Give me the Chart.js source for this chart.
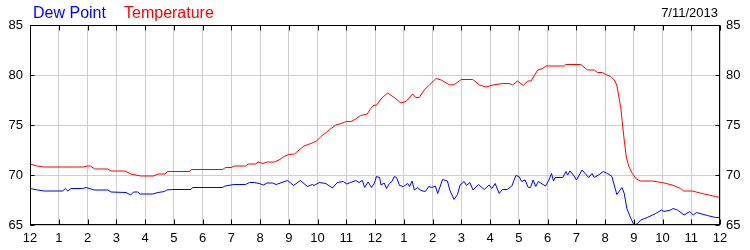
<!DOCTYPE html>
<html>
<head>
<meta charset="utf-8">
<script src="https://cdn.jsdelivr.net/npm/chart.js@4"></script>
<style>
    body { margin: 0; background: #fff; }
    #cadre { position: relative; width: 750px; height: 250px; font-family: "Liberation Sans", Arial, sans-serif; }
    .entete { position: absolute; white-space: nowrap; line-height: 1; }
</style>
</head>
<body>
<div id="cadre">
    <canvas id="graphique-meteo" width="750" height="250"></canvas>
    <div class="entete" style="left:33px; top:5px; font-size:16px; color:#0000ff;">Dew Point</div>
    <div class="entete" style="left:124px; top:5px; font-size:16px; color:#ff0000;">Temperature</div>
    <div class="entete" style="right:32px; top:6px; font-size:13px; color:#000;">7/11/2013</div>
</div>
<script>
// Heures (0 = minuit) et valeurs
const heuresTemperature = [0, 0.25, 0.5, 1.85, 2.0, 2.1, 2.25, 2.7, 2.82, 3.3, 3.5, 3.85, 4.3, 4.45, 4.7, 4.78, 5.55, 5.62, 6.7, 6.8,
    7.0, 7.1, 7.5, 7.58, 7.85, 7.93, 8.1, 8.25, 8.5, 8.66, 8.84, 9.0, 9.2, 9.36, 9.53, 9.77, 9.97, 10.12, 10.3, 10.47,
    10.64, 10.82, 11.0, 11.16, 11.33, 11.5, 11.73, 11.85, 11.97, 12.05, 12.13, 12.24, 12.44, 12.67, 12.9, 13.08, 13.31, 13.42, 13.54, 13.71,
    13.89, 14.12, 14.3, 14.6, 14.76, 15.0, 15.4, 15.63, 15.86, 16.1, 16.44, 16.67, 16.79, 16.96, 17.16, 17.31, 17.43, 17.66, 17.83, 17.95,
    18.58, 18.64, 19.16, 19.39, 19.63, 19.74, 19.91, 20.03, 20.2, 20.32, 20.41, 20.49, 20.55, 20.6, 20.66, 20.74, 20.83, 20.95, 21.09, 21.24,
    21.65, 21.99, 22.34, 22.63, 22.74, 23.03, 23.38, 23.61, 23.84, 24.0];
const valeursTemperature = [71.1, 70.9, 70.8, 70.8, 70.9, 70.9, 70.6, 70.6, 70.4, 70.4, 70.1, 69.9, 69.9, 70.1, 70.1, 70.35, 70.35, 70.55, 70.55, 70.75,
    70.75, 70.9, 70.9, 71.1, 71.1, 71.3, 71.15, 71.3, 71.3, 71.5, 71.85, 72.05, 72.1, 72.5, 72.9, 73.15, 73.4, 73.85, 74.25, 74.65,
    75.0, 75.15, 75.35, 75.35, 75.6, 75.95, 76.1, 76.65, 77.0, 76.95, 77.3, 77.7, 78.2, 77.75, 77.2, 77.35, 78.1, 77.75, 77.75, 78.5,
    79.0, 79.65, 79.5, 79.0, 79.05, 79.55, 79.55, 79.0, 78.8, 79.0, 79.15, 79.15, 79.0, 79.4, 78.95, 79.4, 79.4, 80.5, 80.65, 80.9,
    80.9, 81.05, 81.05, 80.5, 80.5, 80.25, 80.25, 80.05, 79.85, 79.5, 79.0, 77.7, 76.7, 75.3, 73.7, 71.8, 70.85, 70.15, 69.6, 69.4,
    69.4, 69.25, 69.0, 68.65, 68.4, 68.4, 68.15, 68.0, 67.85, 67.75];

const heuresRosee = [0, 0.27, 0.5, 1.14, 1.23, 1.31, 1.43, 1.83, 1.95, 2.12, 2.24, 2.7, 2.82, 3.34, 3.5, 3.6, 3.75, 3.83, 4.27, 4.45,
    4.68, 4.76, 4.97, 5.6, 5.65, 6.7, 6.78, 7.1, 7.5, 7.63, 7.8, 7.97, 8.12, 8.24, 8.44, 8.56, 8.96, 9.17, 9.4, 9.65,
    9.82, 9.88, 10.06, 10.29, 10.52, 10.69, 10.9, 11.02, 11.15, 11.33, 11.44, 11.56, 11.64, 11.76, 11.88, 11.98, 12.05, 12.16, 12.21, 12.32,
    12.4, 12.5, 12.59, 12.67, 12.75, 12.85, 12.99, 13.14, 13.2, 13.29, 13.37, 13.48, 13.6, 13.75, 13.87, 13.98, 14.1, 14.18, 14.35, 14.52,
    14.6, 14.75, 14.87, 14.96, 15.1, 15.18, 15.3, 15.41, 15.6, 15.8, 15.97, 16.06, 16.18, 16.32, 16.43, 16.6, 16.76, 16.9, 17.01, 17.1,
    17.22, 17.33, 17.41, 17.5, 17.59, 17.68, 17.93, 18.05, 18.14, 18.21, 18.27, 18.53, 18.64, 18.7, 18.78, 18.9, 19.01, 19.2, 19.31, 19.43,
    19.55, 19.63, 19.8, 19.94, 20.09, 20.24, 20.41, 20.59, 20.67, 20.76, 20.9, 21.01, 21.13, 21.24, 21.47, 21.76, 21.97, 22.05, 22.28, 22.37,
    22.52, 22.75, 22.95, 23.07, 23.18, 23.56, 23.85, 24.0];
const valeursRosee = [68.65, 68.5, 68.4, 68.4, 68.65, 68.4, 68.65, 68.65, 68.75, 68.6, 68.5, 68.5, 68.3, 68.25, 68.0, 68.3, 68.3, 68.1, 68.1, 68.25,
    68.35, 68.5, 68.55, 68.55, 68.75, 68.75, 68.9, 69.05, 69.05, 69.25, 69.25, 69.15, 69.0, 69.2, 69.2, 69.05, 69.45, 68.95, 69.45, 68.85,
    69.05, 68.95, 69.25, 69.15, 68.7, 69.25, 69.35, 69.1, 69.25, 69.45, 69.25, 69.45, 68.75, 69.3, 68.75, 69.2, 69.85, 69.75, 69.0, 69.2,
    68.65, 69.15, 69.35, 69.85, 69.75, 68.95, 68.85, 69.15, 68.85, 69.4, 68.5, 68.75, 68.45, 68.35, 68.85, 68.75, 68.9, 68.15, 69.55, 69.4,
    68.5, 67.55, 68.05, 69.0, 69.35, 68.95, 69.25, 68.5, 69.05, 68.55, 69.0, 68.65, 69.15, 68.15, 68.55, 68.55, 68.9, 69.95, 69.85, 69.35,
    69.5, 68.75, 68.75, 69.5, 68.85, 69.35, 68.9, 69.5, 70.15, 69.4, 69.75, 69.75, 70.35, 70.0, 70.4, 70.0, 69.5, 70.5, 70.15, 69.75,
    70.15, 69.75, 70.05, 70.35, 70.15, 69.85, 68.05, 68.75, 68.15, 66.65, 65.65, 65.0, 65.15, 65.5, 65.75, 66.15, 66.5, 66.35, 66.5, 66.65,
    66.5, 66.0, 66.35, 66.0, 66.25, 65.95, 65.75, 65.75];

// Libellés des heures sur l'axe du bas
const libellesHeures = ["12", "1", "2", "3", "4", "5", "6", "7", "8", "9", "10", "11",
    "12", "1", "2", "3", "4", "5", "6", "7", "8", "9", "10", "11", "12"];

const gris = "#cfcfcf";
const police = { family: "'Liberation Sans', Arial, sans-serif", size: 13 };

// Cadre noir + petites graduations vers l'intérieur
const cadreNoir = {
    id: "cadreNoir",
    afterDraw(chart) {
        const ctx = chart.ctx;
        const a = chart.chartArea;
        const l = Math.round(a.left) + 0.5, r = Math.round(a.right) - 0.5;
        const t = Math.round(a.top) + 0.5, b = Math.round(a.bottom) - 0.5;
        ctx.save();
        ctx.strokeStyle = "#000";
        ctx.lineWidth = 1;
        ctx.strokeRect(l, t, r - l, b - t);
        ctx.beginPath();
        for (const tick of chart.scales.x.ticks) {
            const x = Math.round(chart.scales.x.getPixelForValue(tick.value)) + 0.5;
            ctx.moveTo(x, t); ctx.lineTo(x, t + 5);
            ctx.moveTo(x, b); ctx.lineTo(x, b - 5);
        }
        for (const tick of chart.scales.y.ticks) {
            const y = Math.round(chart.scales.y.getPixelForValue(tick.value)) + 0.5;
            ctx.moveTo(l, y); ctx.lineTo(l + 4, y);
            ctx.moveTo(r, y); ctx.lineTo(r - 4, y);
        }
        ctx.stroke();
        ctx.restore();
    }
};

const data = {
    datasets: [{
        label: "Temperature",
        data: heuresTemperature.map((h, i) => ({ x: h, y: valeursTemperature[i] })),
        borderColor: "#ff0000",
        borderWidth: 1,
        pointRadius: 0,
        tension: 0
    }, {
        label: "Dew Point",
        data: heuresRosee.map((h, i) => ({ x: h, y: valeursRosee[i] })),
        borderColor: "#0000ff",
        borderWidth: 1,
        pointRadius: 0,
        tension: 0
    }]
};

const axeY = (position, padding, largeur) => ({
    position: position,
    min: 65,
    max: 85,
    grid: { color: gris, drawTicks: false, drawOnChartArea: position === "left" },
    border: { display: false },
    ticks: { stepSize: 5, padding: padding, color: "#000", font: police },
    afterFit: (scale) => { scale.width = largeur; }
});

const config = {
    type: "line",
    data: data,
    options: {
        responsive: false,
        animation: false,
        devicePixelRatio: 1,
        layout: { padding: { top: 25, left: 0, right: 0, bottom: 0 } },
        plugins: { legend: { display: false }, tooltip: { enabled: false } },
        scales: {
            x: {
                type: "linear",
                min: 0,
                max: 24,
                grid: { color: gris, drawTicks: false },
                border: { display: false },
                ticks: {
                    stepSize: 1,
                    autoSkip: false,
                    maxRotation: 0,
                    padding: 6,
                    color: "#000",
                    font: police,
                    callback: (v) => libellesHeures[v]
                },
                afterFit: (scale) => { scale.height = 25; }
            },
            y: axeY("left", 7, 30),
            y2: axeY("right", 6, 30)
        }
    },
    plugins: [cadreNoir]
};

new Chart(document.querySelector("#graphique-meteo"), config);
</script>
</body>
</html>
